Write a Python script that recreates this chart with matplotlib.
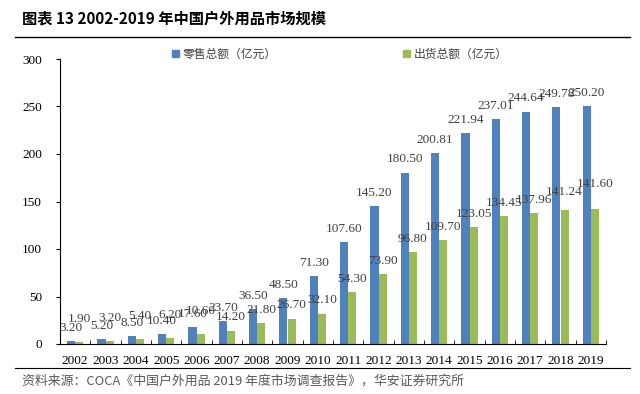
import numpy as np
import matplotlib.pyplot as plt
from matplotlib.lines import Line2D

plt.rcParams['font.family'] = ['Noto Sans CJK SC', 'DejaVu Sans']

years = ['2002', '2003', '2004', '2005', '2006', '2007', '2008', '2009', '2010',
         '2011', '2012', '2013', '2014', '2015', '2016', '2017', '2018', '2019']
retail = [3.20, 5.20, 8.50, 10.40, 17.60, 23.70, 36.50, 48.50, 71.30,
          107.60, 145.20, 180.50, 200.81, 221.94, 237.01, 244.64, 249.78, 250.20]
shipment = [1.90, 3.20, 5.40, 6.20, 10.60, 14.20, 21.80, 26.70, 32.10,
            54.30, 73.90, 96.80, 109.70, 123.05, 134.45, 137.96, 141.24, 141.60]
series_names = ['零售总额（亿元）', '出货总额（亿元）']

# extra lift (points) of the green labels, like the original's collision shuffling
green_lift = [7, 7, 7, 7, 7, 0, 0, 0, 0, 0, 0, 0, 0, 0, 0, 0, 3.5, 9]

blue = '#4F81BD'
green = '#9BBB59'
serif = 'Liberation Serif'

fig = plt.figure(figsize=(6.4, 3.94), dpi=100)
ax = fig.add_axes([60 / 640, 1 - 344 / 394, 546 / 640, 285 / 394])

x = np.arange(len(years))
w = 0.265
b1 = ax.bar(x - w / 2, retail, w, color=blue, zorder=2)
b2 = ax.bar(x + w / 2, shipment, w, color=green, zorder=2)

for bars, vals, lifts in [(b1, retail, [0] * len(years)), (b2, shipment, green_lift)]:
    for rect, v, lift in zip(bars, vals, lifts):
        ax.annotate(f'{v:.2f}', (rect.get_x() + rect.get_width() / 2, v),
                    xytext=(0, 9.5 + lift), textcoords='offset points',
                    ha='center', va='center', fontsize=9.5,
                    family=serif, color='#404040')

ax.set_xlim(-0.5, len(years) - 0.5)
ax.set_ylim(0, 300)
ax.set_yticks(range(0, 301, 50))
ax.set_xticks(x)
ax.set_xticklabels(years)
ax.set_xticks(np.arange(-0.5, len(years), 1), minor=True)
ax.tick_params(axis='x', which='major', length=0, pad=8)
ax.tick_params(axis='x', which='minor', length=3, direction='in', color='black')
ax.tick_params(axis='y', length=3, direction='out', pad=10)
for lab in ax.get_xticklabels() + ax.get_yticklabels():
    lab.set_family(serif)
    lab.set_fontsize(9.5)
    lab.set_color('black')
for s in ['top', 'right']:
    ax.spines[s].set_visible(False)
ax.spines['left'].set_color('black')
ax.spines['bottom'].set_color('black')

# title and rules
fig.text(22 / 640, 1 - 18 / 394, '图表 13 2002-2019 年中国户外用品市场规模',
         fontsize=11, fontweight='bold', va='center', ha='left')
fig.add_artist(Line2D([15 / 640, 630 / 640], [1 - 37 / 394, 1 - 37 / 394],
                      color='black', lw=1))
fig.add_artist(Line2D([15 / 640, 630 / 640], [1 - 368 / 394, 1 - 368 / 394],
                      color='black', lw=0.8))

# legend
handles = [plt.Rectangle((0, 0), 1, 1, color=blue),
           plt.Rectangle((0, 0), 1, 1, color=green)]
fig.legend(handles, series_names, loc='center', bbox_to_anchor=(340 / 640, 1 - 54 / 394),
           ncol=2, frameon=False, fontsize=8.5, handlelength=0.6, handleheight=0.6,
           handletextpad=0.3, columnspacing=10.7, labelcolor='#404040')

fig.text(22 / 640, 1 - 381 / 394,
         '资料来源：COCA《中国户外用品 2019 年度市场调查报告》，华安证券研究所',
         fontsize=9.3, va='center', ha='left', color='#595959')

fig.savefig('out.png', dpi=100)
